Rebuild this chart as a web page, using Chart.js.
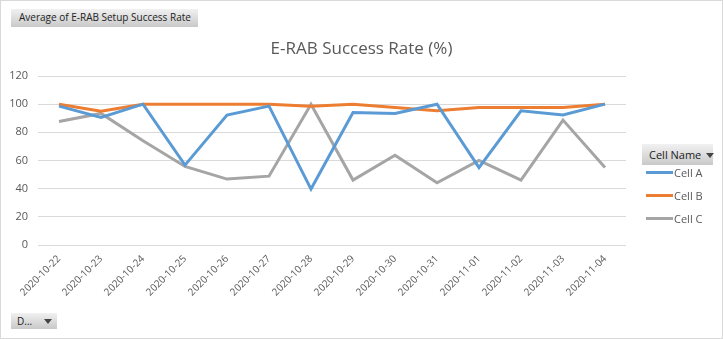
<!DOCTYPE html>
<html>
<head>
<meta charset="utf-8">
<script src="https://cdn.jsdelivr.net/npm/chart.js@4"></script>
<style>
    body { margin: 0; background: #fff; font-family: "Open Sans", "Liberation Sans", sans-serif; }
    #wrap { position: relative; width: 723px; height: 339px; box-sizing: border-box; border: 1px solid #d9d9d9; overflow: hidden; }
    #chartCanvas { position: absolute; left: -1px; top: -1px; }
    .btn {
        position: absolute; box-sizing: border-box; color: #222; font-size: 10px;
        background: linear-gradient(#f1f1f1, #c9c9c9); line-height: 17px; padding-left: 8px; white-space: nowrap;
    }
    .arrow { display: inline-block; margin-left: 5px; width: 0; height: 0; border-left: 4px solid transparent; border-right: 4px solid transparent; border-top: 5px solid #444; vertical-align: 1px; }
    #chartTitle { position: absolute; left: 0; width: 721px; top: 35px; text-align: center; font-size: 17px; color: #595959; }
    .legendItem { position: absolute; left: 645px; font-size: 11px; color: #595959; line-height: 14px; }
    .legendItem span { display: inline-block; width: 27px; height: 3px; vertical-align: 3px; margin-right: 1px; }
</style>
</head>
<body>
<div id="wrap">
    <canvas id="chartCanvas" width="723" height="339"></canvas>
    <div class="btn" style="left:10px; top:8px; width:187px; height:18px;">Average of E-RAB Setup Success Rate</div>
    <div id="chartTitle">E-RAB Success Rate (%)</div>
    <div class="btn" style="left:641px; top:143px; width:71px; height:21px; line-height:21px; padding-left:7px; font-size:11px;">Cell Name<span class="arrow"></span></div>
    <div id="legendBox"></div>
    <div class="btn" style="left:10px; top:312px; width:46px; height:16px; line-height:16px; padding-left:6px;">D...<span class="arrow" style="margin-left:12px"></span></div>
</div>
<script>
const dates = ["2020-10-22", "2020-10-23", "2020-10-24", "2020-10-25", "2020-10-26", "2020-10-27", "2020-10-28",
    "2020-10-29", "2020-10-30", "2020-10-31", "2020-11-01", "2020-11-02", "2020-11-03", "2020-11-04"];
const cellNames = ["Cell A", "Cell B", "Cell C"];
const cellA = [98.6, 90.6, 100, 56.7, 92.2, 98.6, 39.7, 94.1, 93.4, 100, 54.9, 95.3, 92.4, 100];
const cellB = [100, 95, 100, 100, 100, 100, 98.6, 100, 97.6, 95.3, 97.7, 97.7, 97.7, 100];
const cellC = [87.7, 93.4, 74, 55.8, 46.8, 48.9, 100, 46.1, 63.8, 44.2, 60, 46, 88.7, 55];
const yTicks = [0, 20, 40, 60, 80, 100, 120];
const lineColors = ["#5B9BD5", "#ED7D31", "#A5A5A5"];

const seriesList = [cellA, cellB, cellC];

// legend, drawn next to the plot like the Excel field list
let legendMarkup = "";
cellNames.forEach((name, i) => {
    legendMarkup += `<div class="legendItem" style="top:${165 + i * 23}px"><span style="background:${lineColors[i]}"></span>${name}</div>`;
});
document.getElementById("legendBox").innerHTML = legendMarkup;

const ctx = document.getElementById("chartCanvas").getContext("2d");

new Chart(ctx, {
    type: 'line',
    data: {
        labels: dates,
        datasets: seriesList.map((values, i) => ({
            label: cellNames[i],
            data: values,
            borderColor: lineColors[i],
            backgroundColor: lineColors[i],
            borderWidth: 3,
            pointRadius: 0,
            tension: 0,
        })),
    },
    options: {
        responsive: false,
        animation: false,
        layout: { padding: { left: 0, right: 97, top: 76, bottom: 0 } },
        plugins: {
            legend: { display: false },
            tooltip: { enabled: false },
        },
        scales: {
            x: {
                offset: true,
                grid: { display: false, drawTicks: false },
                border: { display: false },
                ticks: {
                    maxRotation: 45,
                    minRotation: 45,
                    padding: 8,
                    color: '#595959',
                    font: { family: 'Open Sans', size: 10 },
                },
                afterFit: scale => { scale.height = 94; },
            },
            y: {
                min: 0,
                max: 120,
                afterBuildTicks: scale => { scale.ticks = yTicks.map(v => ({ value: v })); },
                grid: { color: '#d9d9d9', drawTicks: false },
                border: { display: false },
                ticks: {
                    padding: 10,
                    color: '#595959',
                    font: { family: 'Open Sans', size: 11 },
                },
                afterFit: scale => { scale.width = 38; },
            },
        },
    },
});
</script>
</body>
</html>
